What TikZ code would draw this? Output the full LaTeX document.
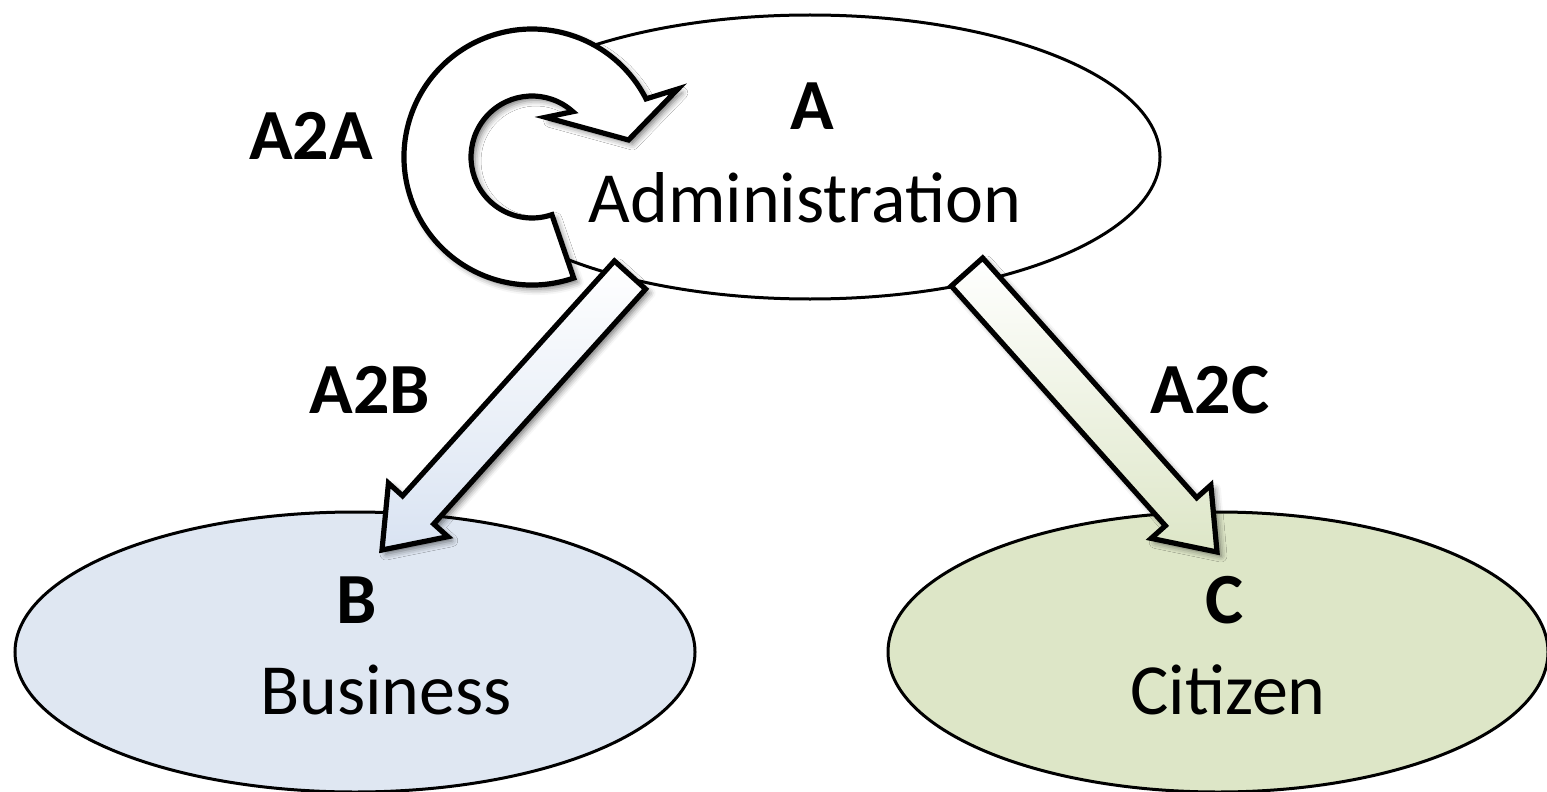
\documentclass[tikz,border=0pt]{standalone}
\usepackage{fontspec}
\setmainfont{Carlito}
\usetikzlibrary{shapes.geometric,calc,shadows.blur}
\definecolor{bizfill}{HTML}{DFE7F2}
\definecolor{bizdeep}{HTML}{D9E3F2}
\definecolor{citfill}{HTML}{DDE6C7}
\tikzset{
  party/.style={ellipse, draw=black, line width=1.5pt, inner sep=0pt},
  boldlbl/.style={font=\bfseries\fontsize{36}{43}\selectfont, anchor=base, inner sep=0pt},
  plainlbl/.style={font=\fontsize{36}{43}\selectfont, anchor=base, inner sep=0pt},
  fatarrow/.style={draw=black, line width=2.6pt, line join=miter,
    blur shadow={shadow xshift=2pt, shadow yshift=-2pt,
                 shadow blur radius=3pt, shadow opacity=55}},
}
% block arrow from #1 (tail centre) to #2 (tip), extra style #3
\newcommand\blockarrow[3]{%
  \coordinate (#2-base) at ($(#2)!27pt!(#1)$);
  \path[fatarrow,#3]
    ($(#1)!10.5pt!90:(#2)$) -- ($(#2-base)!10.5pt!90:(#2)$)
    -- ($(#2-base)!20pt!90:(#2)$) -- (#2)
    -- ($(#2-base)!20pt!-90:(#2)$) -- ($(#2-base)!10.5pt!-90:(#2)$)
    -- ($(#1)!10.5pt!-90:(#2)$) -- cycle;}
\begin{document}
\begin{tikzpicture}[x=0.5pt,y=-0.5pt]
\useasboundingbox (0,0) rectangle (1547,792);

% the three parties
\node[party, fill=bizfill, minimum width=340pt, minimum height=140pt] (biz) at (355,652) {};
\node[party, fill=citfill, minimum width=330pt, minimum height=140pt] (cit) at (1218,652) {};
\node[party, fill=white, minimum width=350pt, minimum height=142pt] (adm) at (810,157) {};

% self loop A2A
\coordinate (loopc) at (532,157);
\path[fatarrow, fill=white]
  ([shift={(71:128)}]loopc) arc[start angle=71, end angle=333, radius=128]
  -- ([shift={(335:161)}]loopc) -- ([shift={(350:98)}]loopc)
  -- ([shift={(289:42)}]loopc) -- ([shift={(312:61)}]loopc)
  arc[start angle=312, end angle=71, radius=61] -- cycle;

% A2B and A2C
\coordinate (a2b-tail) at (630,275);
\coordinate (a2b-tip) at (382,550);
\coordinate (a2c-tail) at (967,272);
\coordinate (a2c-tip) at (1217,552);
\blockarrow{a2b-tail}{a2b-tip}{top color=white, bottom color=bizdeep}
\blockarrow{a2c-tail}{a2c-tip}{top color=white, bottom color=citfill}

% texts
\node[boldlbl] (admT) at (812,130) {A};
\node[plainlbl] (admN) at (805,222) {Administration};
\node[boldlbl] (bizT) at (357,623) {B};
\node[plainlbl] (bizN) at (386,714) {Business};
\node[boldlbl] (citT) at (1225,623) {C};
\node[plainlbl] (citN) at (1228,714) {Citizen};
\node[boldlbl] (lA2A) at (311,160) {A2A};
\node[boldlbl] (lA2B) at (370,413) {A2B};
\node[boldlbl] (lA2C) at (1210,413) {A2C};
\end{tikzpicture}
\end{document}
